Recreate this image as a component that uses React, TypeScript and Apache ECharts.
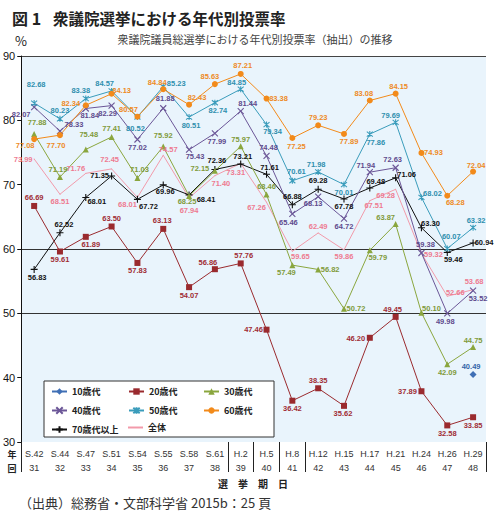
import React, { useEffect, useRef } from "react";
import * as echarts from "echarts";

// ---- data ----
const eras = ["S.42", "S.44", "S.47", "S.51", "S.54", "S.55", "S.58", "S.61", "H.2", "H.5", "H.8", "H.12", "H.15", "H.17", "H.21", "H.24", "H.26", "H.29"];
const sessions = ["31", "32", "33", "34", "35", "36", "37", "38", "39", "40", "41", "42", "43", "44", "45", "46", "47", "48"];

const teens: (number | null)[] = [null, null, null, null, null, null, null, null, null, null, null, null, null, null, null, null, null, 40.49];
const twenties = [66.69, 59.61, 61.89, 63.5, 57.83, 63.13, 54.07, 56.86, 57.76, 47.46, 36.42, 38.35, 35.62, 46.2, 49.45, 37.89, 32.58, 33.85];
const thirties = [77.88, 71.19, 75.48, 77.41, 71.03, 75.92, 68.25, 72.15, 75.97, 68.46, 57.49, 56.82, 50.72, 59.79, 63.87, 50.1, 42.09, 44.75];
const forties = [82.07, 78.33, 81.84, 82.29, 77.02, 81.88, 75.43, 77.99, 81.44, 74.48, 65.46, 68.13, 64.72, 71.94, 72.63, 59.38, 49.98, 53.52];
const fifties = [82.68, 80.23, 83.38, 84.57, 80.52, 85.23, 80.51, 82.74, 84.85, 79.34, 70.61, 71.98, 70.01, 77.86, 79.69, 68.02, 60.07, 63.32];
const sixties = [77.08, 77.7, 82.34, 84.13, 80.57, 84.84, 82.43, 85.63, 87.21, 83.38, 77.25, 79.23, 77.89, 83.08, 84.15, 74.93, 68.28, 72.04];
const seventies = [56.83, 62.52, 68.01, 71.35, 67.72, 69.96, 68.41, 72.36, 73.21, 71.61, 66.88, 69.28, 67.78, 69.48, 71.06, 63.3, 59.46, 60.94];
const overall = [73.99, 68.51, 71.76, 72.45, 68.01, 74.57, 67.94, 71.4, 73.31, 67.26, 59.65, 62.49, 59.86, 67.51, 69.28, 59.32, 52.66, 53.68];

// ---- label placement (style only: offset of each value label from its point) ----
type Off = [number, number];
const offTeens: (Off | null)[] = [null, null, null, null, null, null, null, null, null, null, null, null, null, null, null, null, null, [-2, -8]];
const offTwenties: Off[] = [[0, -8], [0, 8], [5, 8], [0, -8], [0, 8], [-1, -8], [0, 8], [-7, -7], [3, -8], [-13, 0], [0, 8], [0, -8], [-1, 8], [-14, 1], [-3, -7], [-14, 0], [0, 8], [0, 8]];
const offThirties: Off[] = [[3, -11], [-2, -8], [3, -15], [0, -8], [2, -9], [0, -11], [-2, 6], [-15, -2], [0, -7], [0, -8], [-6, 7], [12, 0], [12, 0], [8, 7], [-10, -7], [10, -4], [0, 8], [0, -7]];
const offForties: Off[] = [[-13, 7], [14, -7], [4, 7], [-4, 8], [0, 8], [2, -10], [6, 7], [2, 8], [7, -8], [2, -8], [-4, 9], [-5, 7], [0, 8], [-4, -7], [-3, -8], [4, -8], [-2, 8], [5, 8]];
const offFifties: Off[] = [[2, -19], [0, -8], [-5, -8], [-7, -7], [-2, 12], [13, -3], [2, 8], [3, 8], [-4, -7], [6, 7], [4, -9], [-2, -7], [0, 8], [6, 8], [-5, -7], [11, -4], [4, -12], [3, -7]];
const offSixties: Off[] = [[-9, 6], [-4, 10], [-15, -2], [10, -3], [-9, -7], [-6, -7], [8, -7], [-5, -8], [2, -8], [12, 0], [4, 8], [0, -8], [5, 8], [-6, -7], [3, -7], [12, 0], [8, 7], [3, -6]];
const offSeventies: Off[] = [[3, 8], [4, -8], [11, 4], [-12, 0], [11, 7], [2, 7], [17, 5], [2, -9], [2, -8], [3, -7], [0, -8], [0, -9], [0, 8], [6, -7], [11, -3], [9, -4], [6, 7], [11, 0]];
const offOverall: Off[] = [[-11, 1], [0, 7], [-10, -5], [-2, -9], [-10, 7], [5, -6], [0, 13], [6, 8], [-5, 9], [-10, 5], [8, 5], [0, -6], [0, 7], [4, 5], [-10, 6], [12, 1], [8, -4], [1, -8]];

const JP = "'Noto Sans CJK JP', 'Noto Sans', sans-serif";
const NUM = "'Liberation Sans', Arial, sans-serif";

const SYM_X = "path://M0,0L10,10M10,0L0,10";
const SYM_STAR = "path://M0,0L10,10M10,0L0,10M5,-1L5,11";
const SYM_PLUS = "path://M5,0L5,10M0,5L10,5";

function lineSeries(
  name: string,
  values: (number | null)[],
  offsets: (Off | null)[],
  color: string,
  labelColor: string,
  symbol: string,
  symbolSize: number,
  stroked: boolean
) {
  return {
    type: "line",
    name,
    data: values.map((v, i) =>
      v == null ? null : { value: v, label: { offset: offsets[i] || [0, -8] } }
    ),
    symbol,
    symbolSize,
    lineStyle: { color, width: 1 },
    itemStyle: { color, borderColor: color, borderWidth: stroked ? 1.1 : 0 },
    label: {
      show: true,
      position: "inside",
      formatter: (p: any) => Number(p.value).toFixed(2),
      color: labelColor,
      fontSize: 7.5,
      fontFamily: NUM,
      fontWeight: "bold",
    },
    emphasis: { disabled: true },
    connectNulls: false,
  };
}

export default function App() {
  const ref = useRef<HTMLDivElement>(null);

  useEffect(() => {
    if (!ref.current) return;
    const chart = echarts.init(ref.current, null, { renderer: "svg" });

    const legendCommon = {
      orient: "vertical",
      itemWidth: 15,
      itemHeight: 8,
      itemGap: 10,
      padding: 0,
      selectedMode: false,
      textStyle: { fontSize: 9, color: "#222", fontFamily: JP, fontWeight: "bold" },
    };

    chart.setOption({
      animation: false,
      textStyle: { fontFamily: JP },
      grid: {
        left: 21,
        right: 8,
        top: 56,
        bottom: 77,
        show: true,
        backgroundColor: "#e9f4fc",
        borderWidth: 0,
      },
      xAxis: {
        type: "category",
        data: eras,
        boundaryGap: true,
        axisLine: { show: false },
        axisTick: {
          show: true,
          length: 30,
          interval: (i: number) => i === 0 || i === 8 || i === 9 || i === 10 || i === 11,
          lineStyle: { color: "#222", width: 1 },
        },
        axisLabel: {
          interval: 0,
          margin: 5,
          fontSize: 9,
          lineHeight: 14,
          color: "#333",
          fontFamily: NUM,
          formatter: (val: string, idx: number) => `${val}\n${sessions[idx]}`,
        },
        splitLine: { show: false },
      },
      yAxis: {
        type: "value",
        min: 30,
        max: 90,
        interval: 10,
        axisLine: { show: true, lineStyle: { color: "#111", width: 1 } },
        axisTick: { show: true, length: 4, lineStyle: { color: "#111" } },
        axisLabel: { fontSize: 11, color: "#111", margin: 6, fontFamily: NUM },
        splitLine: {
          show: true,
          lineStyle: {
            color: ["transparent", "transparent", "#333", "#333", "transparent", "transparent", "#444"],
            width: 1,
          },
        },
      },
      legend: [
        { ...legendCommon, left: 51, top: 387, data: ["10歳代", "40歳代", "70歳代以上"] },
        { ...legendCommon, left: 128, top: 387, data: ["20歳代", "50歳代"] },
        { ...legendCommon, left: 203, top: 387, data: ["30歳代", "60歳代"] },
        { ...legendCommon, left: 128, top: 423, itemHeight: 2, data: [{ name: "全体", icon: "rect" }] },
      ],
      graphic: [
        {
          type: "rect",
          z: 3,
          shape: { x: 44, y: 381, width: 230, height: 56 },
          style: { fill: "#ffffff", stroke: "#333", lineWidth: 1 },
        },
        {
          type: "text",
          x: 12,
          y: 18,
          style: { text: "図 1", font: `bold 16px ${JP}`, fill: "#222", textVerticalAlign: "middle" },
        },
        {
          type: "text",
          x: 53,
          y: 18,
          style: { text: "衆議院選挙における年代別投票率", font: `bold 15.5px ${JP}`, fill: "#222", textVerticalAlign: "middle" },
        },
        {
          type: "text",
          x: 255,
          y: 39,
          style: { text: "衆議院議員総選挙における年代別投票率（抽出）の推移", font: `11px ${JP}`, fill: "#444", textAlign: "center", textVerticalAlign: "middle" },
        },
        {
          type: "text",
          x: 21,
          y: 40,
          style: { text: "%", font: `13px ${JP}`, fill: "#222", textAlign: "center", textVerticalAlign: "middle" },
        },
        {
          type: "text",
          x: 12,
          y: 454,
          style: { text: "年", font: `bold 9px ${JP}`, fill: "#222", textAlign: "center", textVerticalAlign: "middle" },
        },
        {
          type: "text",
          x: 12,
          y: 468,
          style: { text: "回", font: `bold 9px ${JP}`, fill: "#222", textAlign: "center", textVerticalAlign: "middle" },
        },
        {
          type: "text",
          x: 253,
          y: 483,
          style: { text: "選　挙　期　日", font: `bold 10px ${JP}`, fill: "#222", textAlign: "center", textVerticalAlign: "middle" },
        },
        {
          type: "text",
          x: 19,
          y: 502,
          style: { text: "（出典）総務省・文部科学省 2015b：25 頁", font: `13px ${JP}`, fill: "#333", textVerticalAlign: "middle" },
        },
      ],
      series: [
        lineSeries("全体", overall, offOverall, "#f29aaa", "#ee7a90", "circle", 1, false),
        lineSeries("70歳代以上", seventies, offSeventies, "#111111", "#111111", SYM_PLUS, 7, true),
        lineSeries("20歳代", twenties, offTwenties, "#9a2a2e", "#a02c34", "rect", 6, false),
        lineSeries("30歳代", thirties, offThirties, "#8aa63e", "#7f9a3a", "triangle", 6, false),
        lineSeries("40歳代", forties, offForties, "#6b5697", "#5e4a8c", SYM_X, 6, true),
        lineSeries("50歳代", fifties, offFifties, "#3a9cbb", "#2f8fae", SYM_STAR, 6, true),
        lineSeries("60歳代", sixties, offSixties, "#f28a1a", "#ee8a1f", "circle", 6, false),
        lineSeries("10歳代", teens, offTeens, "#3f6fb5", "#3465a8", "diamond", 7, false),
      ],
    });

    return () => chart.dispose();
  }, []);

  return (
    <div
      ref={ref}
      style={{ position: "fixed", left: 0, top: 0, width: 494, height: 519, background: "#ffffff" }}
    />
  );
}
